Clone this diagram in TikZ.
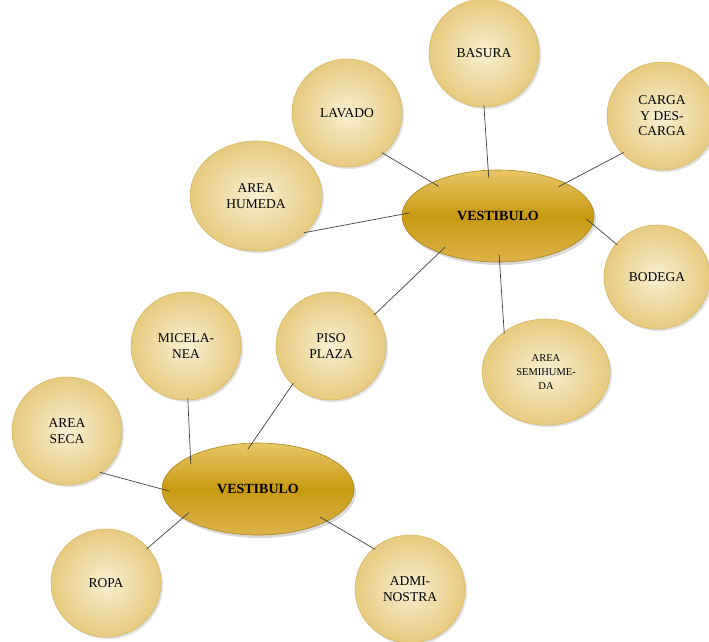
\documentclass[tikz,border=0pt]{standalone}
\usepackage{fontspec}
\setmainfont{Liberation Serif}
\usetikzlibrary{shapes.geometric,shadows}
\definecolor{creamin}{HTML}{F8EFD2}
\definecolor{creamout}{HTML}{E6CA7E}
\definecolor{creamline}{HTML}{D8B866}
\definecolor{goldtop}{HTML}{E9C767}
\definecolor{goldmid}{HTML}{C89A12}
\definecolor{goldbot}{HTML}{DDB34A}
\definecolor{goldline}{HTML}{A8821C}
\begin{document}
\begin{tikzpicture}[x=1pt,y=-1pt,
  area/.style={ellipse,draw=creamline,line width=0.6pt,shade,inner color=creamin,outer color=creamout,
    minimum width=110pt,minimum height=108pt,inner sep=0pt,align=center,font=\fontsize{13.5}{15.5}\selectfont,
    drop shadow={shadow xshift=2pt,shadow yshift=-2pt,opacity=0.25}},
  hub/.style={ellipse,draw=goldline,line width=0.6pt,top color=goldtop,bottom color=goldbot,middle color=goldmid,
    minimum width=192pt,minimum height=92pt,font=\fontsize{14}{16}\selectfont\bfseries,
    drop shadow={shadow xshift=2pt,shadow yshift=-3pt,opacity=0.3}},
  link/.style={draw=black!75,line width=0.7pt,shorten <=-2pt,shorten >=-8pt}]
\useasboundingbox (0,0) rectangle (709,641);
% satelites
\node [area] (basura) at (484,53) {BASURA};
\node [area] (lavado) at (347,113) {LAVADO};
\node [area,minimum width=132pt,minimum height=110pt] (humeda) at (256,196) {AREA\\HUMEDA};
\node [area] (carga) at (662,116) {CARGA\\Y DES-\\CARGA};
\node [area,minimum width=106pt,minimum height=104pt] (bodega) at (657,277) {BODEGA};
\node [area,minimum width=128pt,minimum height=106pt,font=\fontsize{10.5}{14}\selectfont] (semihumeda) at (546,372) {AREA\\SEMIHUME-\\DA};
\node [area] (piso) at (331,346) {PISO\\PLAZA};
\node [area] (micelanea) at (186,346) {MICELA-\\NEA};
\node [area] (seca) at (67,431) {AREA\\SECA};
\node [area] (ropa) at (106,583) {ROPA};
\node [area] (admi) at (410,589) {ADMI-\\NOSTRA};
% centros
\node [hub] (vtop) at (498,216) {VESTIBULO};
\node [hub] (vbot) at (258,489) {VESTIBULO};
% lineas
\path [link] (basura.-90) -- (vtop.102);
\path [link] (lavado.-48) -- (vtop.153);
\path [link] (humeda.-36) -- (vtop.179);
\path [link] (carga.223) -- (vtop.26);
\path [link] (bodega.141) -- (vtop.-5);
\path [link] (semihumeda.136) -- (vtop.-88);
\path [link] (piso.36) -- (vtop.212);
\path [link] (micelanea.-88) -- (vbot.154);
\path [link] (piso.225) -- (vbot.97);
\path [link] (seca.-50) -- (vbot.180);
\path [link] (ropa.40) -- (vbot.201);
\path [link] (admi.132) -- (vbot.-25);
\end{tikzpicture}
\end{document}
